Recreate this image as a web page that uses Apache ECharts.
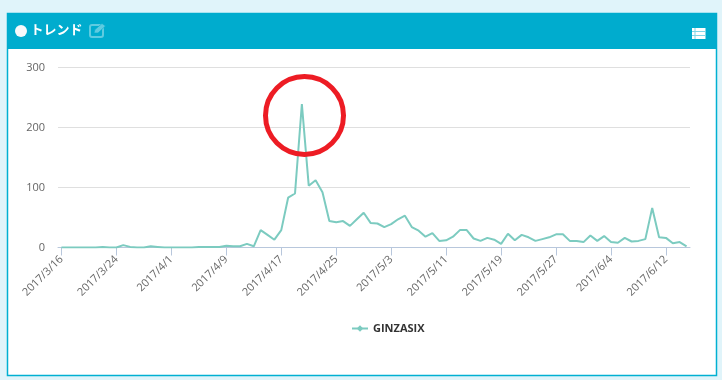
<!DOCTYPE html>
<html><head><meta charset="utf-8">
<style>html,body{margin:0;padding:0;background:#e0f4fa}#c{width:722px;height:380px}</style>
<script src="https://cdn.jsdelivr.net/npm/echarts@6/dist/echarts.min.js"></script>
</head><body><div id="c"></div>
<script>
const seriesName = 'GINZASIX';
const titleText = 'トレンド';
const yTicks = [0, 100, 200, 300];
const startDate = [2017, 3, 16];
const values = [
 0,0,0,0,0,0,1,0,0,4,1,0,0,2,1,0,0,0,0,0,
 1,1,1,1,3,2,2,6,2,29,21,13,29,83,90,239,103,112,92,44,
 42,44,36,47,58,41,40,34,39,47,53,34,28,18,24,11,12,18,29,29,
 15,11,16,13,6,23,12,21,17,11,14,17,22,22,11,11,9,20,11,19,
 9,8,16,10,11,14,66,17,16,7,9,2
];
const categories = values.map((_, i) => {
  const d = new Date(startDate[0], startDate[1] - 1, startDate[2] + i);
  return d.getFullYear() + '/' + (d.getMonth() + 1) + '/' + d.getDate();
});
const chart = echarts.init(document.getElementById('c'), null, {renderer: 'canvas'});
const lineColor = '#7ccbc0';
chart.setOption({
  animation: false,
  backgroundColor: 'transparent',
  grid: {left: 58, right: 32, top: 67.5, bottom: 132.5},
  legend: {
    data: [seriesName], top: 318, left: 346, itemWidth: 16, itemHeight: 8, itemGap: 4,
    textStyle: {fontFamily: 'Open Sans', fontSize: 11, fontWeight: 'bold', color: '#333'}
  },
  xAxis: {
    type: 'category', data: categories, boundaryGap: true,
    axisLine: {show: true, onZero: false, lineStyle: {color: '#b8c7dc', width: 1}},
    axisTick: {show: true, alignWithLabel: true, interval: 7, length: 8, lineStyle: {color: '#b8c7dc', width: 1}},
    axisLabel: {interval: 7, rotate: 45, margin: 10, fontFamily: 'Open Sans', fontSize: 11, color: '#666'},
    splitLine: {show: false}
  },
  yAxis: {
    type: 'value', min: yTicks[0], max: yTicks[3], interval: 100,
    axisLine: {show: false}, axisTick: {show: false},
    axisLabel: {margin: 13, fontFamily: 'Open Sans', fontSize: 11, color: '#666'},
    splitLine: {lineStyle: {color: '#dfdfdf', width: 1}}
  },
  series: [{
    name: seriesName, type: 'line', data: values, symbol: 'diamond', showSymbol: false, symbolSize: 8,
    itemStyle: {color: lineColor}, lineStyle: {color: lineColor, width: 2}
  }],
  graphic: [
    {type: 'rect', silent: true, z: -10, shape: {x: 7.5, y: 13.5, width: 709, height: 362},
      style: {fill: '#fff', stroke: '#00b0d2', lineWidth: 1.5}},
    {type: 'rect', silent: true, z: -9, shape: {x: 7, y: 13, width: 710, height: 36}, style: {fill: '#00acce'}},
    {type: 'circle', silent: true, z: 5, shape: {cx: 21, cy: 31, r: 6}, style: {fill: '#f7f9fb'}},
    {type: 'text', silent: true, z: 5, left: 30.5, top: 23,
      style: {text: titleText, fill: '#fff', font: 'bold 13px "Noto Sans CJK JP"'}},
    {type: 'rect', silent: true, z: 5, shape: {x: 90, y: 25, width: 13, height: 12, r: 2},
      style: {fill: 'none', stroke: '#5fcbe0', lineWidth: 2}},
    {type: 'polygon', silent: true, z: 6, shape: {points: [[94, 33], [95, 29.5], [102, 23.5], [105.5, 26], [98, 33]]},
      style: {fill: '#5fcbe0', stroke: '#00acce', lineWidth: 0.6}},
    {type: 'rect', silent: true, z: 5, shape: {x: 692, y: 28, width: 13.5, height: 11}, style: {fill: '#fff'}},
    {type: 'rect', silent: true, z: 6, shape: {x: 692, y: 31, width: 13.5, height: 1}, style: {fill: '#7fd5e6'}},
    {type: 'rect', silent: true, z: 6, shape: {x: 692, y: 35, width: 13.5, height: 1}, style: {fill: '#7fd5e6'}},
    {type: 'rect', silent: true, z: 6, shape: {x: 694.5, y: 28, width: 1, height: 11}, style: {fill: '#7fd5e6'}},
    {type: 'circle', silent: true, z: 20, shape: {cx: 304.5, cy: 115.5, r: 39},
      style: {fill: 'none', stroke: '#ed1c24', lineWidth: 5}}
  ]
});
</script></body></html>
